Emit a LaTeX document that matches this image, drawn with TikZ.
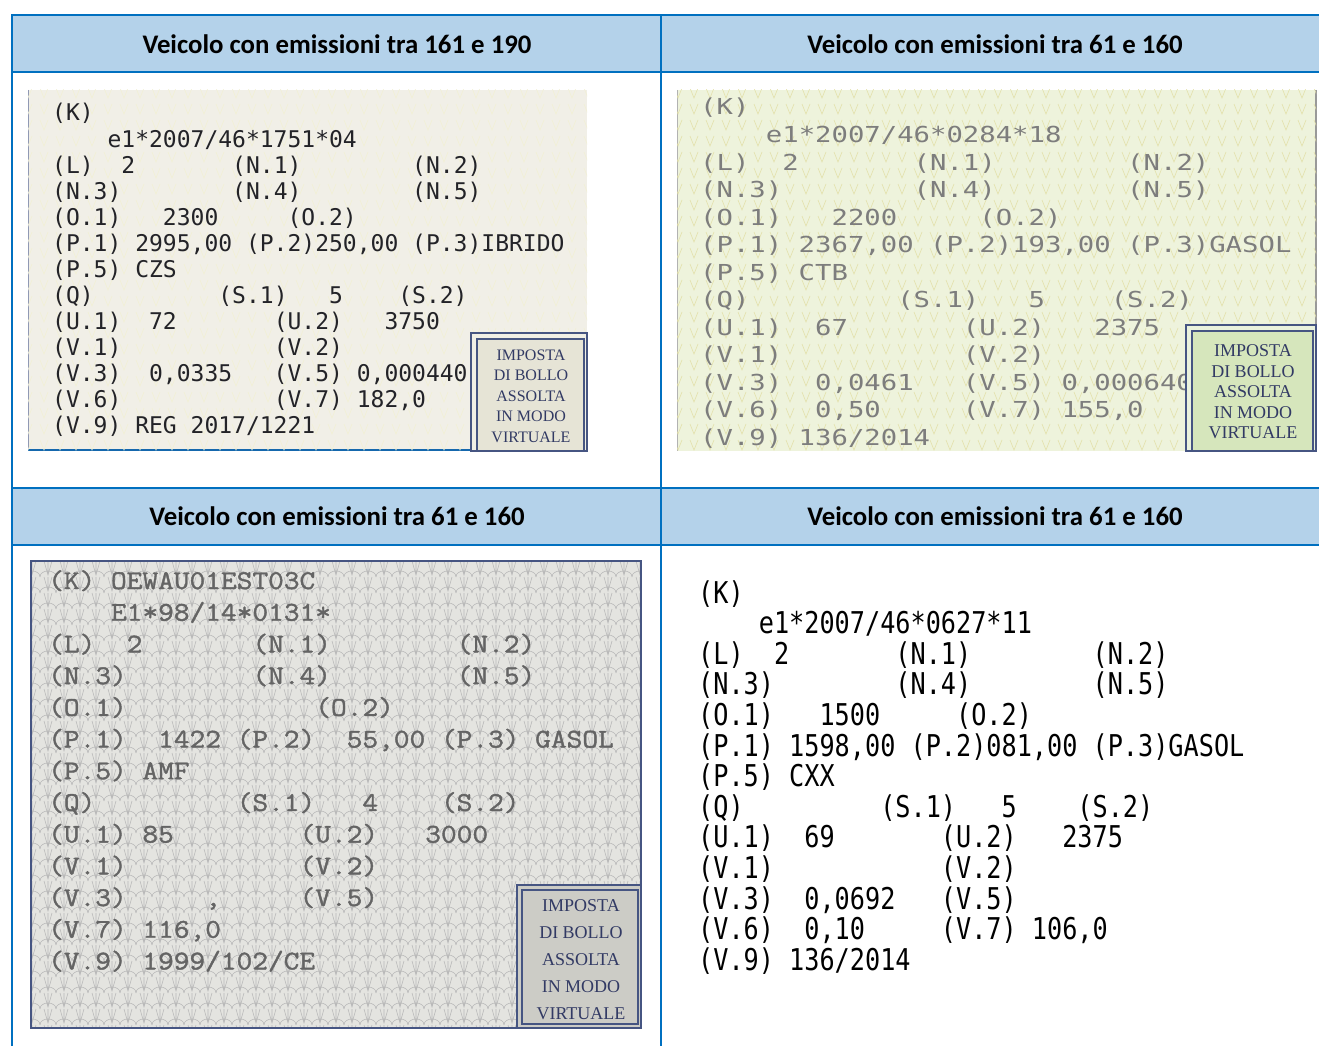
\documentclass[tikz,border=0pt]{standalone}
\usepackage{fontspec}
\setmainfont{Liberation Serif}
\newfontfamily\headfont{Carlito}
\newfontfamily\monoa{DejaVu Sans Mono}
\newfontfamily\monob[FakeStretch=1.24]{DejaVu Sans Mono}
\newfontfamily\monoc[FakeStretch=1.13,FakeBold=1.5]{Latin Modern Mono}
\newfontfamily\monod[FakeStretch=0.84]{DejaVu Sans Mono}

\definecolor{tabblue}{RGB}{0,112,192}
\definecolor{headfill}{RGB}{180,210,234}
\definecolor{scanA}{RGB}{241,239,231}
\definecolor{scanB}{RGB}{238,243,220}
\definecolor{scanC}{RGB}{228,228,224}
\definecolor{inkA}{RGB}{35,35,40}
\definecolor{inkB}{RGB}{125,125,125}
\definecolor{inkC}{RGB}{100,100,100}
\definecolor{stampA}{RGB}{230,228,214}
\definecolor{stampB}{RGB}{214,230,188}
\definecolor{stampC}{RGB}{204,204,198}
\definecolor{stampink}{RGB}{50,58,100}
\definecolor{frameblue}{RGB}{70,85,130}

\begin{document}
\begin{tikzpicture}[x=1pt,y=-1pt,
  head/.style={font=\headfont\bfseries\fontsize{26.8}{30}\selectfont},
  rec/.style={anchor=base west,inner sep=0pt},
  reca/.style={rec,font=\monoa\fontsize{23}{23}\selectfont,text=inkA},
  recb/.style={rec,font=\monob\fontsize{22}{22}\selectfont,text=inkB},
  recc/.style={rec,font=\monoc\fontsize{27}{27}\selectfont,text=inkC},
  recd/.style={rec,font=\monod\fontsize{30}{30}\selectfont,text=black},
  stampbox/.style={draw=frameblue,line width=1.2pt},
  stamptext/.style={align=center,text=stampink,inner sep=0pt}]

\useasboundingbox (0,0) rectangle (1319,1046);

% header rows
\fill[headfill] (12,15) rectangle (1330,72);
\fill[headfill] (12,488) rectangle (1330,545);
\node[head] (h1) at (337,44) {Veicolo con emissioni tra 161 e 190};
\node[head] (h2) at (995,44) {Veicolo con emissioni tra 61 e 160};
\node[head] (h3) at (337,516) {Veicolo con emissioni tra 61 e 160};
\node[head] (h4) at (995,516) {Veicolo con emissioni tra 61 e 160};

% scans
\fill[scanA] (28,90) rectangle (587,451);
\draw[frameblue!60,line width=1pt] (28,90) -- (28,450);
\draw[tabblue!70!frameblue,line width=2pt] (28,450) -- (470,450);
\fill[scanB] (677,90) rectangle (1316,451);
\draw[gray!60,line width=1pt] (677,90) -- (677,451);
\draw[gray!80,line width=1.5pt] (1316,90) -- (1316,451);
\fill[scanC] (31,561) rectangle (641,1028);

\begin{scope}
\clip (28,90) rectangle (587,451);
\foreach \r in {0,...,22}
  \draw[olive!12,line width=.6pt] \foreach \c in {0,...,35}
    {(24+16*\c,88+16*\r) -- ++(4,10) -- ++(4,-10)};
\end{scope}
\begin{scope}
\clip (677,90) rectangle (1316,451);
\foreach \r in {0,...,22}
  \draw[olive!25,line width=.6pt] \foreach \c in {0,...,40}
    {(674+16*\c,88+16*\r) -- ++(4,10) -- ++(4,-10)};
\end{scope}
\begin{scope}
\clip (31,561) rectangle (641,1028);
\foreach \r in {0,...,29}
  \draw[gray!55,line width=.6pt] \foreach \c in {0,...,38}
    {(24+16*\c,561+16*\r) .. controls (24+16*\c,553+16*\r) and (40+16*\c,553+16*\r) .. (40+16*\c,561+16*\r)
     (28+16*\c,561+16*\r) -- (32+16*\c,575+16*\r) -- (36+16*\c,561+16*\r)
     (32+16*\c,561+16*\r) -- (32+16*\c,575+16*\r)};
\end{scope}
\draw[frameblue,line width=1.5pt] (31,561) rectangle (641,1028);

% records
\foreach \t [count=\i from 0] in {{(K)},{~~~~e1*2007/46*1751*04},
  {(L)~~2~~~~~~~(N.1)~~~~~~~~(N.2)},{(N.3)~~~~~~~~(N.4)~~~~~~~~(N.5)},
  {(O.1)~~~2300~~~~~(O.2)},{(P.1)~2995,00~(P.2)250,00~(P.3)IBRIDO},
  {(P.5)~CZS},{(Q)~~~~~~~~~(S.1)~~~5~~~~(S.2)},
  {(U.1)~~72~~~~~~~(U.2)~~~3750},{(V.1)~~~~~~~~~~~(V.2)},
  {(V.3)~~0,0335~~~(V.5)~0,000440},{(V.6)~~~~~~~~~~~(V.7)~182,0},
  {(V.9)~REG~2017/1221}}
  \node[reca] (a\i) at (52,121+26*\i) {\t};

\foreach \t [count=\i from 0] in {{(K)},{~~~~e1*2007/46*0284*18},
  {(L)~~2~~~~~~~(N.1)~~~~~~~~(N.2)},{(N.3)~~~~~~~~(N.4)~~~~~~~~(N.5)},
  {(O.1)~~~2200~~~~~(O.2)},{(P.1)~2367,00~(P.2)193,00~(P.3)GASOL},
  {(P.5)~CTB},{(Q)~~~~~~~~~(S.1)~~~5~~~~(S.2)},
  {(U.1)~~67~~~~~~~(U.2)~~~2375},{(V.1)~~~~~~~~~~~(V.2)},
  {(V.3)~~0,0461~~~(V.5)~0,000640},{(V.6)~~0,50~~~~~(V.7)~155,0},
  {(V.9)~136/2014}}
  \node[recb] (b\i) at (700,115+27.5*\i) {\t};

\foreach \t [count=\i from 0] in {{(K)~OEWAU01EST03C},{~~~~E1*98/14*0131*},
  {(L)~~2~~~~~~~(N.1)~~~~~~~~(N.2)},{(N.3)~~~~~~~~(N.4)~~~~~~~~(N.5)},
  {(O.1)~~~~~~~~~~~~(O.2)},{(P.1)~~1422~(P.2)~~55,00~(P.3)~GASOL},
  {(P.5)~AMF},{(Q)~~~~~~~~~(S.1)~~~4~~~~(S.2)},
  {(U.1)~85~~~~~~~~(U.2)~~~3000},{(V.1)~~~~~~~~~~~(V.2)},
  {(V.3)~~~~~,~~~~~(V.5)},{(V.7)~116,0},
  {(V.9)~1999/102/CE}}
  \node[recc] (c\i) at (48,589+31.7*\i) {\t};

\foreach \t [count=\i from 0] in {{(K)},{~~~~e1*2007/46*0627*11},
  {(L)~~2~~~~~~~(N.1)~~~~~~~~(N.2)},{(N.3)~~~~~~~~(N.4)~~~~~~~~(N.5)},
  {(O.1)~~~1500~~~~~(O.2)},{(P.1)~1598,00~(P.2)081,00~(P.3)GASOL},
  {(P.5)~CXX},{(Q)~~~~~~~~~(S.1)~~~5~~~~(S.2)},
  {(U.1)~~69~~~~~~~(U.2)~~~2375},{(V.1)~~~~~~~~~~~(V.2)},
  {(V.3)~~0,0692~~~(V.5)},{(V.6)~~0,10~~~~~(V.7)~106,0},
  {(V.9)~136/2014}}
  \node[recd] (d\i) at (698,603+30.6*\i) {\t};

% stamps
\draw[stampbox,fill=stampA!60] (471,333) rectangle (587,451);
\draw[stampbox,fill=stampA] (477,339) rectangle (584,451);
\node[stamptext,font=\fontsize{16}{20.5}\selectfont] (sa) at (531,396)
  {IMPOSTA\\DI BOLLO\\ASSOLTA\\IN MODO\\VIRTUALE};
\draw[stampbox,fill=stampB!50] (1186,325) rectangle (1316,451);
\draw[stampbox,fill=stampB] (1192,331) rectangle (1313,451);
\node[stamptext,font=\fontsize{18}{20.5}\selectfont] (sb) at (1253,392)
  {IMPOSTA\\DI BOLLO\\ASSOLTA\\IN MODO\\VIRTUALE};
\draw[stampbox,fill=stampC] (517,885) rectangle (641,1028);
\draw[stampbox,fill=stampC] (522,890) rectangle (638,1024);
\node[stamptext,font=\fontsize{18}{27}\selectfont] (sc) at (581,960)
  {IMPOSTA\\DI BOLLO\\ASSOLTA\\IN MODO\\VIRTUALE};

% table lines
\begin{scope}[tabblue,line width=2.2pt]
\draw (12,1046) -- (12,15) -- (1330,15);
\draw (661,15) -- (661,1046);
\draw (12,72) -- (1330,72);
\draw (12,488) -- (1330,488);
\draw (12,545) -- (675,545);
\draw[line width=1.2pt] (675,545) -- (1330,545);
\end{scope}

\end{tikzpicture}
\end{document}
